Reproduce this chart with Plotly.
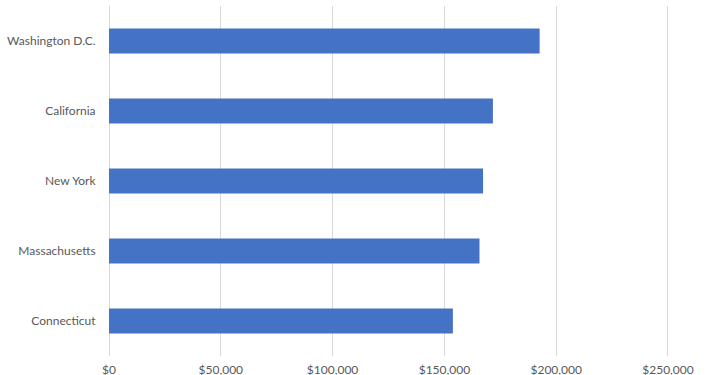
import plotly.graph_objects as go

states = ["Washington D.C.", "California", "New York", "Massachusetts", "Connecticut"]
salaries = [192600, 171700, 167300, 165700, 153800]
tick_vals = [0, 50000, 100000, 150000, 200000, 250000]
tick_text = ["$0", "$50,000", "$100,000", "$150,000", "$200,000", "$250,000"]

fig = go.Figure(go.Bar(
    y=states, x=salaries, orientation="h",
    marker=dict(color="#4472C4", line=dict(width=0)),
))

fig.update_layout(
    width=710, height=375,
    margin=dict(l=109, r=38, t=6, b=19),
    paper_bgcolor="white", plot_bgcolor="white",
    bargap=0.64,
    showlegend=False,
    font=dict(family="Lato, Arial, sans-serif", size=12, color="#595959"),
)
fig.update_xaxes(
    range=[0, 251800], tickvals=tick_vals, ticktext=tick_text,
    showgrid=True, gridcolor="#D9D9D9", gridwidth=1,
    zeroline=True, zerolinecolor="#D9D9D9", zerolinewidth=1,
    showline=False, ticks="outside", ticklen=3, tickcolor="rgba(0,0,0,0)",
    tickfont=dict(size=12, color="#595959"),
    automargin=False,
)
fig.update_yaxes(
    autorange="reversed", showgrid=False, zeroline=False, showline=False,
    ticks="outside", ticklen=10, tickcolor="rgba(0,0,0,0)",
    tickfont=dict(size=12, color="#595959"),
    automargin=False,
)

fig.write_html(
    "out.html",
    config={"displayModeBar": False},
    post_script="document.body.style.margin='0';document.body.style.overflow='hidden';",
)
